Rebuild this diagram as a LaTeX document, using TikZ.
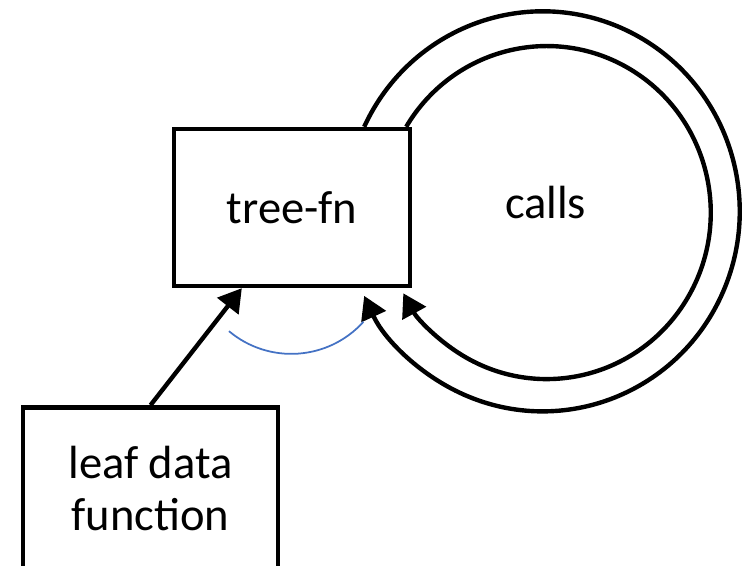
\documentclass[tikz,border=0pt]{standalone}
\usepackage{fontspec}
\setmainfont{Carlito}
\usepackage{tikz}
\usetikzlibrary{positioning,arrows.meta,calc}
\definecolor{blk}{HTML}{000000}
\definecolor{acc}{HTML}{4472C4}
\tikzset{
  >={Triangle[length=13pt,width=15pt]},
  block/.style={draw=blk, line width=2.5pt, inner sep=0pt, align=center,
                font=\fontsize{26.5}{29.5}\selectfont},
  lbl/.style={inner sep=0pt, font=\fontsize{26.5}{29.5}\selectfont},
  l/.style={->, line width=2.5pt, draw=blk},
  angarc/.style={draw=acc, line width=1pt},
}
\begin{document}
\begin{tikzpicture}[x=0.02cm,y=0.02cm]
  \useasboundingbox (0,0) rectangle (744,565);
  \node[block,minimum width=4.72cm,minimum height=3.14cm] (treefn) at (292,357.5) {tree-fn};
  \node[lbl,right=1.85cm of treefn,yshift=1mm] (calls) {calls};
  \node[block,minimum width=5.1cm,minimum height=3.24cm,below=2.34cm of treefn,xshift=-2.83cm] (leaf) {leaf data\\function};
  \draw[l] (leaf.north) -- ($(treefn.south west)+(70,0)$);
  \draw[l] ($(treefn.north east)+(-48,0)$) arc[start angle=155,end angle=-155,x radius=197,y radius=200];
  \draw[l] ($(treefn.north east)+(-6,0)$) arc[start angle=149,end angle=-151,x radius=164,y radius=166.5];
  \draw[angarc] ($(treefn.south)+(-63,-43)$) arc[start angle=230,end angle=318,radius=97];
\end{tikzpicture}
\end{document}
